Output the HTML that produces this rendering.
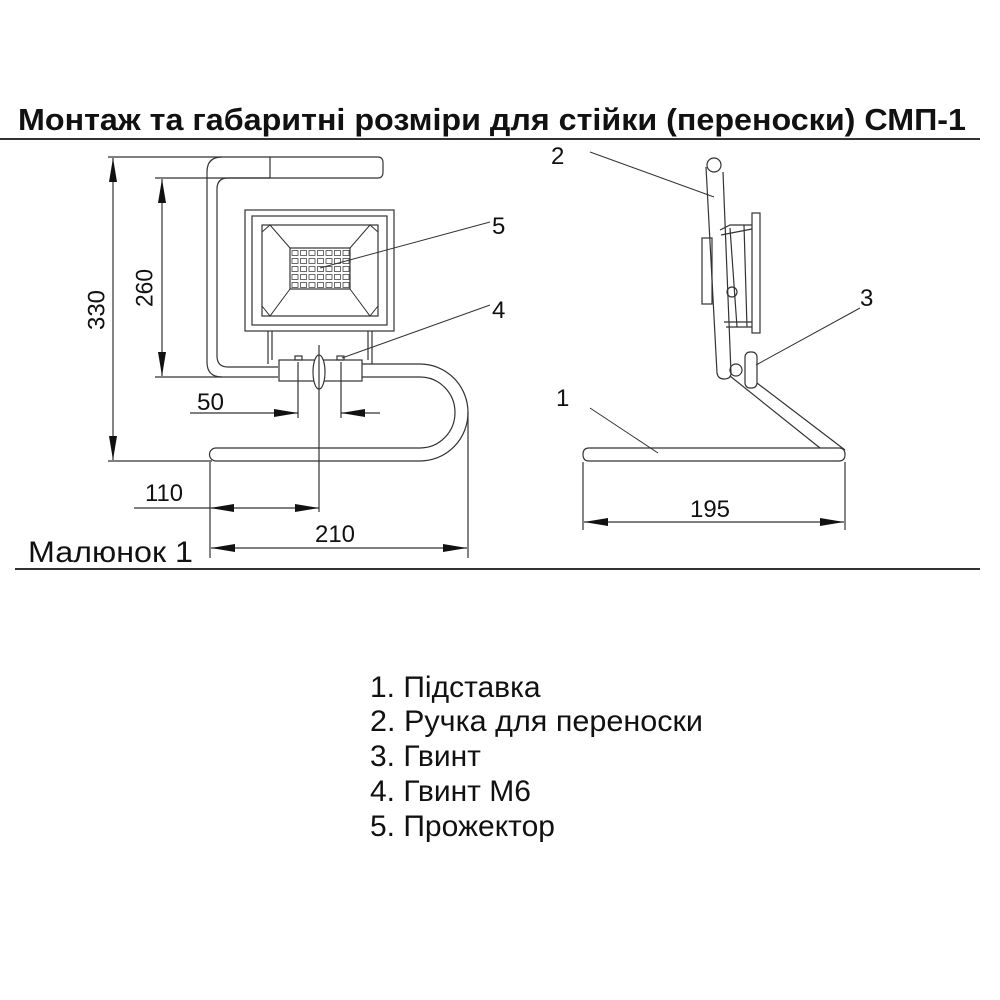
<!DOCTYPE html>
<html><head><meta charset="utf-8"><style>
html,body{margin:0;padding:0;background:#fff}
svg{display:block}
text{font-family:"Liberation Sans",Arial,sans-serif;fill:#111}
</style></head><body>
<svg width="1000" height="1000" viewBox="0 0 1000 1000" xmlns="http://www.w3.org/2000/svg">
<defs>
<marker id="a" viewBox="0 0 24 8" refX="24" refY="4" markerWidth="24" markerHeight="8" markerUnits="userSpaceOnUse" orient="auto-start-reverse">
<path d="M0,0 L24,4 L0,8 Z" fill="#111"/></marker>
<pattern id="led" x="291" y="249" width="8.5" height="8" patternUnits="userSpaceOnUse">
<rect x="1" y="1.5" width="6" height="5" fill="none" stroke="#444" stroke-width="0.8"/></pattern>
</defs>
<text x="18" y="130" font-size="31" font-weight="bold" textLength="948" lengthAdjust="spacingAndGlyphs">Монтаж та габаритні розміри для стійки (переноски) СМП-1</text>
<line x1="0" y1="139" x2="980" y2="139" stroke="#333" stroke-width="2"/>
<line x1="15" y1="569" x2="980" y2="569" stroke="#333" stroke-width="2"/>
<text x="28" y="562" font-size="30" textLength="165" lengthAdjust="spacingAndGlyphs">Малюнок 1</text>

<g fill="none" stroke="#333" stroke-width="1.2">
<line x1="108" y1="157" x2="222" y2="157"/>
<line x1="108" y1="461" x2="212" y2="461"/>
<line x1="113" y1="158" x2="113" y2="460" marker-start="url(#a)" marker-end="url(#a)"/>
<line x1="155" y1="178" x2="270" y2="178"/>
<line x1="155" y1="377" x2="222" y2="377"/>
<line x1="162" y1="179" x2="162" y2="376" marker-start="url(#a)" marker-end="url(#a)"/>
<path d="M270,157 L222,157 Q207,157 207,172 L207,362 Q207,377 222,377 L278,377"/>
<path d="M270,178 L228,178 Q217,178 217,189 L217,356 Q217,367 228,367 L278,367"/>
<path d="M270,157 L378,157 Q383,157 383,163 L383,172 Q383,178 378,178 L270,178 Z"/>
<rect x="245" y="210" width="149" height="121"/>
<rect x="252" y="216" width="135" height="109"/>
<rect x="262" y="225" width="116" height="91"/>
<rect x="290" y="248" width="60" height="41" fill="url(#led)"/>
<path d="M262,232 L270,225 L290,248 M378,232 L370,225 L350,248 M262,306 L270,316 L290,289 M378,306 L370,316 L350,289" stroke-width="1"/>
<path d="M268,331 L268,364 M272,331 L272,360 M368,331 L368,360 M372,331 L372,364"/>
<rect x="279" y="360" width="83" height="21"/>
<rect x="295" y="356" width="7" height="4"/>
<rect x="337" y="356" width="7" height="4"/>
<ellipse cx="319" cy="372" rx="6" ry="17" fill="#fff"/>
<path d="M362,364 L420,364 A48,48.5 0 0 1 420,461 L216,461 A6.5,6.5 0 0 1 216,448 L420,448 A35,35.5 0 0 0 420,377 L362,377"/>
<line x1="298" y1="362" x2="298" y2="418"/>
<line x1="341" y1="362" x2="341" y2="418"/>
<line x1="190" y1="413" x2="298" y2="413" marker-end="url(#a)"/>
<line x1="341" y1="413" x2="380" y2="413" marker-start="url(#a)"/>
<line x1="319" y1="345" x2="319" y2="512"/>
<line x1="134" y1="508" x2="210" y2="508"/>
<line x1="210" y1="508" x2="319" y2="508" marker-start="url(#a)" marker-end="url(#a)"/>
<line x1="210" y1="462" x2="210" y2="558"/>
<line x1="468" y1="412" x2="468" y2="558"/>
<line x1="211" y1="548" x2="467" y2="548" marker-start="url(#a)" marker-end="url(#a)"/>
<line x1="490" y1="222" x2="320" y2="268" stroke-width="1"/>
<line x1="490" y1="305" x2="342" y2="358" stroke-width="1"/>

<line x1="590" y1="152" x2="714" y2="197" stroke-width="1"/>
<circle cx="714" cy="165" r="7"/>
<path d="M706,167 L717,373 Q718,379 724,379 Q731,379 731,373 L723,172"/>
<rect x="702" y="238" width="10" height="66"/>
<path d="M720,230 L730,225 L752,225 M721,235 L752,229 M724,322 L752,322 M726,327 L752,327"/>
<path d="M730,228 L737,327 M744,225 L747,327"/>
<rect x="752" y="213" width="8" height="120"/>
<circle cx="732" cy="292" r="5"/>
<circle cx="736" cy="370" r="6"/>
<rect x="745" y="352" width="12" height="36" rx="5" fill="#fff"/>
<path d="M730,376 L820,448 M757,383 L845,450"/>
<path d="M589,448 L839,448 Q845,448 845,454.5 Q845,461 839,461 L589,461 Q583,461 583,454.5 Q583,448 589,448 Z"/>
<line x1="860" y1="308" x2="756" y2="365" stroke-width="1"/>
<line x1="590" y1="408" x2="658" y2="453" stroke-width="1"/>
<line x1="583" y1="462" x2="583" y2="530"/>
<line x1="845" y1="462" x2="845" y2="530"/>
<line x1="584" y1="522" x2="844" y2="522" marker-start="url(#a)" marker-end="url(#a)"/>
</g>

<g font-size="24">
<text x="98" y="310" transform="rotate(-90 98 310)" text-anchor="middle" dominant-baseline="middle" textLength="40" lengthAdjust="spacingAndGlyphs">330</text>
<text x="146" y="288" transform="rotate(-90 146 288)" text-anchor="middle" dominant-baseline="middle" textLength="38" lengthAdjust="spacingAndGlyphs">260</text>
<text x="197" y="410" textLength="27" lengthAdjust="spacingAndGlyphs">50</text>
<text x="145" y="501" textLength="38" lengthAdjust="spacingAndGlyphs">110</text>
<text x="315" y="542" textLength="40" lengthAdjust="spacingAndGlyphs">210</text>
<text x="690" y="517" textLength="40" lengthAdjust="spacingAndGlyphs">195</text>
<text x="492" y="234">5</text>
<text x="492" y="318">4</text>
<text x="551" y="164">2</text>
<text x="860" y="306">3</text>
<text x="556" y="406">1</text>
</g>

<g font-size="30">
<text x="370" y="697">1. Підставка</text>
<text x="370" y="731" textLength="333" lengthAdjust="spacingAndGlyphs">2. Ручка для переноски</text>
<text x="370" y="766">3. Гвинт</text>
<text x="370" y="801">4. Гвинт М6</text>
<text x="370" y="836">5. Прожектор</text>
</g>
</svg>
</body></html>
